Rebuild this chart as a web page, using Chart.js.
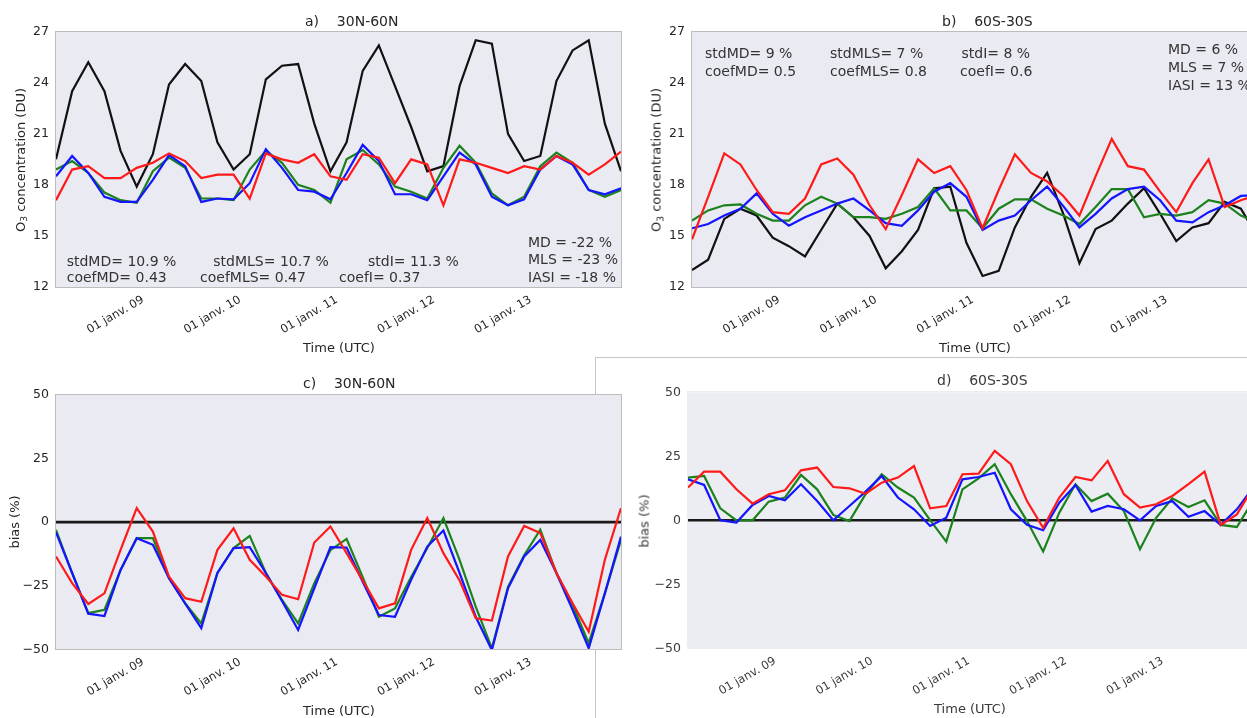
<!DOCTYPE html>
<html><head><meta charset="utf-8">
<script src="https://cdn.jsdelivr.net/npm/chart.js@4.4.0/dist/chart.umd.min.js"></script>
<style>
html,body{margin:0;padding:0;width:1247px;height:718px;overflow:hidden;background:#fff;font-family:"DejaVu Sans",sans-serif;}
body{position:relative;}
canvas{position:absolute;}
.t{position:absolute;white-space:pre;line-height:1;color:#262626;font-size:14px;transform:translateY(-50%);z-index:10;}
.ax{position:absolute;white-space:pre;line-height:1;color:#262626;font-size:13px;transform:translate(-50%,-50%);z-index:10;}
.ay{position:absolute;white-space:pre;line-height:1;color:#262626;font-size:13px;transform:translate(-50%,-50%) rotate(-90deg);z-index:10;}
.ay sub{font-size:70%;vertical-align:-0.3em;line-height:0;}
</style></head><body>
<div style="position:absolute;left:595px;top:357px;width:700px;height:400px;border-top:1px solid #c6c6c6;border-left:1px solid #c6c6c6;background:#fff;z-index:1"></div>
<canvas id="cD" width="640" height="361" style="left:632px;top:357px;z-index:2"></canvas>
<canvas id="cA" width="640" height="360" style="left:0;top:0;z-index:3"></canvas>
<canvas id="cB" width="640" height="360" style="left:636px;top:0;z-index:3"></canvas>
<canvas id="cC" width="640" height="358" style="left:0;top:360px;z-index:3"></canvas>

<div class="t" style="left:305px;top:20.5px">a)    30N-60N</div>
<div class="t" style="left:942px;top:20.5px">b)    60S-30S</div>
<div class="t" style="left:303px;top:382.5px">c)    30N-60N</div>
<div class="t" style="left:937px;top:380px;color:#3a3a3a">d)    60S-30S</div>

<div class="t" style="left:66.7px;top:260.5px;color:#333">stdMD= 10.9 %</div>
<div class="t" style="left:66.7px;top:276.5px;color:#333">coefMD= 0.43</div>
<div class="t" style="left:213.3px;top:260.5px;color:#333">stdMLS= 10.7 %</div>
<div class="t" style="left:200px;top:276.5px;color:#333">coefMLS= 0.47</div>
<div class="t" style="left:368px;top:260.5px;color:#333">stdI= 11.3 %</div>
<div class="t" style="left:339px;top:276.5px;color:#333">coefI= 0.37</div>
<div class="t" style="left:528px;top:241.5px;color:#333">MD = -22 %</div>
<div class="t" style="left:528px;top:259px;color:#333">MLS = -23 %</div>
<div class="t" style="left:528px;top:276.5px;color:#333">IASI = -18 %</div>

<div class="t" style="left:705px;top:53px;color:#333">stdMD= 9 %</div>
<div class="t" style="left:705px;top:70.5px;color:#333">coefMD= 0.5</div>
<div class="t" style="left:830px;top:53px;color:#333">stdMLS= 7 %</div>
<div class="t" style="left:830px;top:70.5px;color:#333">coefMLS= 0.8</div>
<div class="t" style="left:961.5px;top:53px;color:#333">stdI= 8 %</div>
<div class="t" style="left:960px;top:70.5px;color:#333">coefI= 0.6</div>
<div class="t" style="left:1168px;top:49.3px;color:#333">MD = 6 %</div>
<div class="t" style="left:1168px;top:66.8px;color:#333">MLS = 7 %</div>
<div class="t" style="left:1168px;top:84.5px;color:#333">IASI = 13 %</div>

<div class="ax" style="left:339px;top:347px">Time (UTC)</div>
<div class="ax" style="left:975px;top:347px">Time (UTC)</div>
<div class="ax" style="left:339px;top:710px">Time (UTC)</div>
<div class="ax" style="left:970px;top:708px;color:#3a3a3a">Time (UTC)</div>
<div class="ay" style="left:20px;top:160px">O<sub>3</sub> concentration (DU)</div>
<div class="ay" style="left:656px;top:160px">O<sub>3</sub> concentration (DU)</div>
<div class="ay" style="left:13.5px;top:522px">bias (%)</div>
<div class="ay" style="left:644px;top:521px;color:#3a3a3a">bias (%)</div>

<script>
// ---- data ----
const periods = [0,1,2,3,4,5,6,7,8,9,10,11,12,13,14,15,16,17,18,19,20,21,22,23,24,25,26,27,28,29,30,31,32,33,34,35];
const tickPositions = [5.4, 11.4, 17.4, 23.4, 29.4];
const tickLabels = ["01 janv. 09", "01 janv. 10", "01 janv. 11", "01 janv. 12", "01 janv. 13"];
const concTicks = [12, 15, 18, 21, 24, 27];
const biasTicks = [-50, -25, 0, 25, 50];

// a) 30N-60N concentration (DU)
const aBlack = [19.5,23.5,25.2,23.5,20.0,17.9,19.8,23.9,25.1,24.1,20.5,18.9,19.8,24.2,25.0,25.1,21.6,18.8,20.5,24.7,26.2,23.8,21.4,18.8,19.1,23.8,26.5,26.3,21.0,19.4,19.7,24.1,25.9,26.5,21.6,18.8];
const aGreen = [18.9,19.4,18.7,17.55,17.1,16.95,18.8,19.6,19.0,17.2,17.2,17.1,18.9,20.0,19.3,18.0,17.7,16.95,19.5,20.05,19.2,17.9,17.6,17.2,19.0,20.3,19.3,17.5,16.8,17.3,19.1,19.9,19.3,17.7,17.3,17.7];
const aBlue  = [18.5,19.7,18.7,17.3,17.0,17.0,18.3,19.75,19.1,17.0,17.2,17.15,18.1,20.1,19.0,17.7,17.6,17.15,18.7,20.35,19.4,17.45,17.45,17.1,18.5,19.9,19.2,17.3,16.8,17.15,18.9,19.7,19.2,17.7,17.45,17.8];
const aRed   = [17.1,18.9,19.1,18.4,18.4,19.0,19.3,19.85,19.4,18.4,18.6,18.6,17.2,19.85,19.5,19.3,19.8,18.5,18.3,19.8,19.6,18.1,19.5,19.2,16.8,19.5,19.3,19.0,18.7,19.1,18.9,19.7,19.3,18.6,19.2,19.95];

// b) 60S-30S concentration (DU)
const bBlack = [13.0,13.6,16.0,16.6,16.2,14.9,14.4,13.8,15.35,16.9,16.1,15.0,13.1,14.1,15.35,17.8,17.9,14.6,12.65,12.95,15.5,17.3,18.7,16.3,13.4,15.4,15.9,16.9,17.8,16.3,14.7,15.5,15.75,17.0,16.6,15.0];
const bGreen = [15.9,16.5,16.8,16.85,16.3,15.9,15.9,16.8,17.3,16.9,16.1,16.1,16.0,16.3,16.7,17.8,16.5,16.5,15.45,16.6,17.15,17.15,16.6,16.2,15.7,16.7,17.75,17.75,16.1,16.3,16.2,16.4,17.1,16.9,16.2,15.8];
const bBlue  = [15.45,15.7,16.2,16.6,17.5,16.3,15.6,16.1,16.5,16.9,17.2,16.5,15.75,15.6,16.5,17.6,18.1,17.3,15.35,15.9,16.2,17.1,17.9,16.75,15.5,16.3,17.2,17.75,17.9,17.1,15.9,15.8,16.4,16.8,17.35,17.4];
const bRed   = [14.8,17.3,19.85,19.2,17.7,16.4,16.3,17.2,19.2,19.55,18.6,16.8,15.4,17.4,19.5,18.7,19.1,17.7,15.45,17.7,19.8,18.7,18.2,17.35,16.2,18.5,20.7,19.1,18.9,17.6,16.4,18.1,19.5,16.7,17.1,17.4];

// c) 30N-60N bias (%)
const cGreen = [-3.0,-20,-35.8,-34.5,-18.8,-6.3,-6.3,-22,-31.9,-39.8,-20,-10.2,-5.4,-20,-30.6,-39.8,-24,-11,-6.6,-21.6,-37.2,-33.9,-21.6,-10.2,1.6,-14.8,-33.2,-49.6,-25.5,-13,-3,-20,-32.6,-47.6,-28,-7];
const cBlue  = [-4,-20,-36,-36.9,-18.8,-6.3,-8.9,-22,-32,-41.7,-20,-10.2,-9.8,-20,-31,-42.4,-26,-9.8,-10,-23.4,-36.5,-37.2,-22.7,-9.6,-3.3,-20,-37.2,-50.3,-26,-13.5,-7,-20,-34.5,-49.6,-28,-5.7];
const cRed   = [-13.5,-24,-32.2,-28,-10.9,5.5,-3.7,-21.4,-29.9,-31.3,-10.9,-2.4,-14.8,-21.4,-28.6,-30.3,-8,-1.7,-12.2,-22.9,-33.9,-31.9,-10.9,1.6,-12.2,-22.9,-37.8,-38.7,-13.5,-1.5,-4.3,-20,-31.9,-43.1,-14.8,5.5];

// d) 60S-30S bias (%)
const dGreen = [16.7,17.3,4.7,0,0,7.3,8.9,17.7,12.1,2.1,-0.3,10.2,18.0,12.8,8.9,0.1,-8.3,12.1,16.4,21.9,10.2,-0.3,-12.2,3.0,14.1,7.5,10.4,3.6,-11.3,1.0,8.6,5.2,7.8,-1.8,-2.6,7.6];
const dBlue  = [16.0,13.8,0,-0.9,6.0,9.5,7.8,14.1,7.5,0,5.6,11.2,17.3,8.9,4.3,-2.2,1.0,16.0,16.9,18.6,4.3,-1.8,-3.9,6.9,13.8,3.4,5.6,4.3,0,5.6,7.5,1.4,3.6,-1.8,4.3,12.8];
const dRed   = [12.8,19.0,19.0,12.1,6.5,10.2,11.7,19.5,20.6,13.0,12.5,10.4,14.7,16.7,21.2,4.7,5.6,18.0,18.2,27.1,21.9,7.5,-2.9,8.9,16.9,15.6,23.2,10.2,5.0,6.25,9.5,14.1,19.0,-1.8,2.3,12.8];

// zero reference line for bias panels
const zeroSpan = [0, 35];
const zeroLevel = [0, 0];

// ---- drawing ----
Chart.defaults.font.family = "DejaVu Sans";

const framePlugin = {
  id: 'plotFrame',
  beforeDraw(chart, args, opts) {
    const a = chart.chartArea, ctx = chart.ctx;
    ctx.save();
    ctx.fillStyle = opts.bg;
    ctx.fillRect(a.left, a.top, a.width, a.height);
    ctx.restore();
  },
  afterDraw(chart, args, opts) {
    const a = chart.chartArea, ctx = chart.ctx;
    ctx.save();
    ctx.strokeStyle = opts.border;
    ctx.lineWidth = 1;
    ctx.strokeRect(Math.round(a.left) - 0.5, Math.round(a.top) - 0.5, Math.round(a.width) + 1, Math.round(a.height) + 1);
    ctx.restore();
  }
};

const COL = { black: '#111111', green: '#1c821c', blue: '#1414ff', red: '#ff1a1a' };

function series(xs, ys, color, width) {
  return {
    data: xs.map((x, i) => ({ x: x, y: ys[i] })),
    borderColor: color, borderWidth: width, pointRadius: 0, tension: 0, fill: false
  };
}

function fmtTick(v) { return v < 0 ? '\u2212' + Math.abs(v) : String(v); }

function makeChart(id, cfg) {
  return new Chart(document.getElementById(id), {
    type: 'line',
    data: { datasets: cfg.datasets },
    options: {
      responsive: false, animation: false, devicePixelRatio: 1,
      layout: { padding: { left: 0, top: cfg.top, right: 19, bottom: 0 } },
      plugins: { legend: { display: false }, tooltip: { enabled: false },
                 plotFrame: { bg: cfg.bg, border: cfg.border } },
      scales: {
        x: {
          type: 'linear', min: 0, max: 35,
          grid: { display: false, drawTicks: false }, border: { display: false },
          afterBuildTicks: s => { s.ticks = tickPositions.map(v => ({ value: v })); },
          afterFit: s => { s.height = cfg.xh; },
          ticks: { autoSkip: false, minRotation: 30, maxRotation: 30, padding: 6,
                   color: cfg.textColor, font: { size: 11.5 },
                   callback: (v, i) => tickLabels[i] }
        },
        y: {
          min: cfg.yTicks[0], max: cfg.yTicks[cfg.yTicks.length - 1],
          grid: { display: false, drawTicks: false }, border: { display: false },
          afterBuildTicks: s => { s.ticks = cfg.yTicks.map(v => ({ value: v })); },
          afterFit: s => { s.width = 56; },
          ticks: { padding: 7, color: cfg.textColor, font: { size: 12.5 }, callback: v => fmtTick(v) }
        }
      }
    },
    plugins: [framePlugin]
  });
}

makeChart('cA', {
  top: 31.7, xh: 73, yTicks: concTicks, bg: '#eaeaf2', border: '#bcbcbc', textColor: '#262626',
  datasets: [series(periods, aRed, COL.red, 2.2), series(periods, aBlue, COL.blue, 2.2),
             series(periods, aGreen, COL.green, 2.2), series(periods, aBlack, COL.black, 2.2)]
});
makeChart('cB', {
  top: 31.7, xh: 73, yTicks: concTicks, bg: '#eaeaf2', border: '#bcbcbc', textColor: '#262626',
  datasets: [series(periods, bRed, COL.red, 2.2), series(periods, bBlue, COL.blue, 2.2),
             series(periods, bGreen, COL.green, 2.2), series(periods, bBlack, COL.black, 2.2)]
});
makeChart('cC', {
  top: 35, xh: 68.7, yTicks: biasTicks, bg: '#eaeaf2', border: '#bcbcbc', textColor: '#262626',
  datasets: [series(periods, cRed, COL.red, 2.2), series(periods, cBlue, COL.blue, 2.2),
             series(periods, cGreen, COL.green, 2.2), series(zeroSpan, zeroLevel, '#1a1a1a', 2.6)]
});
makeChart('cD', {
  top: 35.3, xh: 69.7, yTicks: biasTicks, bg: '#ececf3', border: '#ececf3', textColor: '#3a3a3a',
  datasets: [series(periods, dRed, COL.red, 2.2), series(periods, dBlue, COL.blue, 2.2),
             series(periods, dGreen, COL.green, 2.2), series(zeroSpan, zeroLevel, '#1a1a1a', 2.4)]
});
</script>
</body></html>
